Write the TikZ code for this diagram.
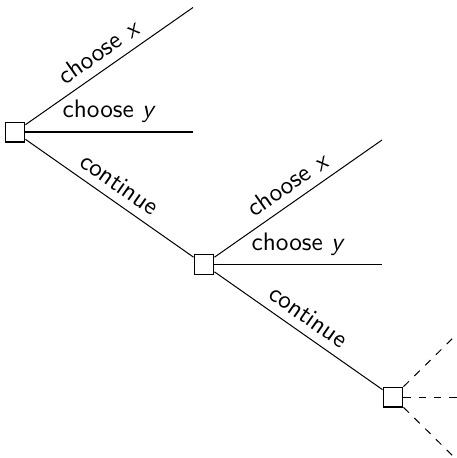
\documentclass[tikz,border=0pt]{standalone}
\usepackage{tikz}
\usetikzlibrary{positioning, calc}

\tikzset{
    decision/.style={draw, rectangle, minimum size=7.9pt, inner sep=0pt},
    act/.style={midway, sloped, above}
}

\begin{document}
\begin{tikzpicture}[x=0.3953pt, y=-0.3953pt, font=\sffamily]
\useasboundingbox (0,0) rectangle (457,458);

% Decision points
\node[decision] (d1) at (15,132) {};
\node[decision] (d2) at (204,264.5) {};
\node[decision] (d3) at (393,397) {};

% Two choices and continue at each stage
\foreach \i/\j in {1/2, 2/3} {
    \coordinate (x\i) at ($(d\i)+(178,-124.5)$);
    \coordinate (y\i) at ($(d\i)+(178,0)$);
    \draw (d\i) -- node[act] {choose \textit{x}} (x\i);
    \draw (d\i) -- node[act] {choose \textit{y}} (y\i);
    \draw (d\i) -- node[act] {continue} (d\j);
}

% Tree goes on
\coordinate (e1) at (456,335);
\coordinate (e2) at (457,397);
\coordinate (e3) at (456,459);
\draw[dashed] (d3) -- (e1);
\draw[dashed] (d3) -- (e2);
\draw[dashed] (d3) -- (e3);
\end{tikzpicture}
\end{document}
